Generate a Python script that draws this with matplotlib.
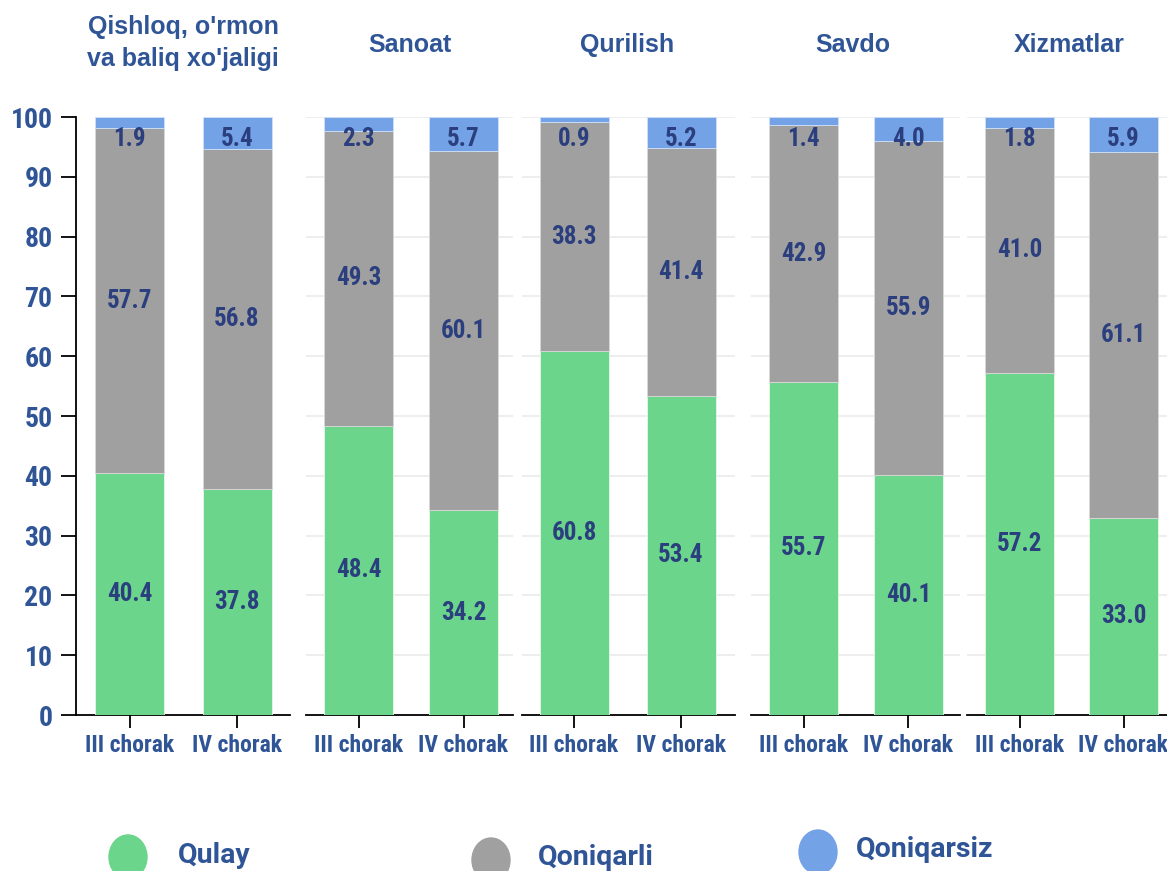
import numpy as np
import matplotlib
matplotlib.use("Agg")
import matplotlib.pyplot as plt
from matplotlib import font_manager
from matplotlib.font_manager import FontProperties
from matplotlib.patches import Ellipse

sectors = ["Qishloq, o'rmon\nva baliq xo'jaligi", "Sanoat", "Qurilish", "Savdo", "Xizmatlar"]
quarters = ["III chorak", "IV chorak"]
qulay = [[40.4, 37.8], [48.4, 34.2], [60.8, 53.4], [55.7, 40.1], [57.2, 33.0]]
qoniqarli = [[57.7, 56.8], [49.3, 60.1], [38.3, 41.4], [42.9, 55.9], [41.0, 61.1]]
qoniqarsiz = [[1.9, 5.4], [2.3, 5.7], [0.9, 5.2], [1.4, 4.0], [1.8, 5.9]]
legend_names = ["Qulay", "Qoniqarli", "Qoniqarsiz"]
yticks = list(range(0, 101, 10))

green = "#6ad58b"
grey = "#a0a0a0"
blue = "#74a2e6"
tick_col = "#2f5597"
val_col = "#2b3f7e"

# pick a narrow bold face if one is installed
names = {f.name for f in font_manager.fontManager.ttflist}
cond = None
for n in ["Roboto Condensed", "Liberation Sans Narrow", "Open Sans Condensed"]:
    if n in names:
        cond = n
        break
if cond is not None:
    fp_num = FontProperties(family=cond, weight="bold")
else:
    has_dv = any(f.name == "DejaVu Sans" and f.stretch == "condensed" for f in font_manager.fontManager.ttflist)
    if has_dv:
        fp_num = FontProperties(family="DejaVu Sans", weight="bold", stretch="condensed")
    else:
        fp_num = FontProperties(family="Roboto", weight="bold")
fp_title = FontProperties(family="Liberation Sans", weight="bold", size=18)
fp_leg = FontProperties(family="Roboto", weight="bold", size=20.5)

W, H = 1167, 871
fig = plt.figure(figsize=(W / 100, H / 100), dpi=100)

# panel extents in pixels: left, right, first bar centre, second bar centre
panels = [(76, 290, 129.5, 237), (306, 513, 358.5, 463.5), (522, 735, 574, 681),
          (751, 960, 803.5, 908.5), (967, 1167, 1019.5, 1123.5)]
y0, y100 = 715, 117
bar_px = 69

for i, (L, R, c1, c2) in enumerate(panels):
    ax = fig.add_axes([L / W, 1 - y0 / H, (R - L) / W, (y0 - y100) / H])
    u = c2 - c1
    x = np.arange(2)
    bw = bar_px / u
    g = np.array(qulay[i])
    m = np.array(qoniqarli[i])
    b = np.array(qoniqarsiz[i])
    ax.bar(x, g, bw, color=green, edgecolor="#e8f7ec", linewidth=0.6, zorder=3)
    ax.bar(x, m, bw, bottom=g, color=grey, edgecolor="#d8d8d8", linewidth=0.6, zorder=3)
    ax.bar(x, b, bw, bottom=g + m, color=blue, edgecolor="#d0e0f8", linewidth=0.6, zorder=3)
    for j in range(2):
        ax.text(x[j], g[j] / 2, f"{g[j]:.1f}", ha="center", va="center",
                fontproperties=fp_num, fontsize=18, color=val_col, zorder=4)
        ax.text(x[j], g[j] + m[j] / 2, f"{m[j]:.1f}", ha="center", va="center",
                fontproperties=fp_num, fontsize=18, color=val_col, zorder=4)
        ax.text(x[j], 96.4, f"{b[j]:.1f}", ha="center", va="center",
                fontproperties=fp_num, fontsize=18, color=val_col, zorder=4)
    ax.set_xlim((L - c1) / u, (R - c1) / u)
    ax.set_ylim(0, 100)
    ax.set_xticks(x)
    ax.set_xticklabels(quarters)
    for lab in ax.get_xticklabels():
        lab.set_fontproperties(fp_num)
        lab.set_fontsize(17)
        lab.set_color(tick_col)
    ax.tick_params(axis="x", length=9.5, width=1.3, pad=4)
    for s in ["top", "right"]:
        ax.spines[s].set_visible(False)
    ax.spines["bottom"].set_linewidth(1.3)
    if i == 0:
        ax.set_yticks(yticks)
        ax.set_yticklabels([str(t) for t in yticks])
        for lab in ax.get_yticklabels():
            lab.set_fontproperties(fp_num)
            lab.set_fontsize(20)
            lab.set_color(tick_col)
        ax.tick_params(axis="y", length=11, width=1.3, pad=6)
        ax.spines["left"].set_linewidth(1.3)
    else:
        ax.spines["left"].set_visible(False)
        ax.set_yticks(yticks)
        ax.tick_params(axis="y", length=0, labelleft=False)
        ax.grid(axis="y", color="#ebebeb", linewidth=1.2, zorder=0)
    ax.set_facecolor("none")

# sector titles
title_pos = [(183, 43), (410, 45), (627, 45), (853, 45), (1069, 45)]
for name, (tx, ty) in zip(sectors, title_pos):
    fig.text(tx / W, 1 - ty / H, name, ha="center", va="center",
             fontproperties=fp_title, color=tick_col, linespacing=1.4)

# legend at the bottom
lax = fig.add_axes([0, 0, 1, 1])
lax.set_xlim(0, W)
lax.set_ylim(H, 0)
lax.axis("off")
leg_pos = [(128, 857, 178, 855), (491, 860, 538, 857), (818, 852, 856, 849)]
for col, name, (cx, cy, tx, ty) in zip([green, grey, blue], legend_names, leg_pos):
    lax.add_patch(Ellipse((cx, cy), 38, 44, color=col))
    lax.text(tx, ty, name, ha="left", va="center", fontproperties=fp_leg,
             color=tick_col)

fig.savefig("out.png", dpi=100)
